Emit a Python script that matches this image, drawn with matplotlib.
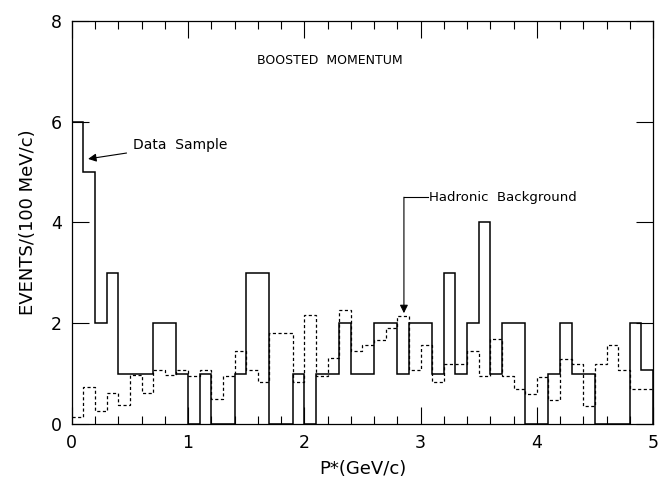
import numpy as np
import matplotlib
matplotlib.use("Agg")
import matplotlib.pyplot as plt
from matplotlib.ticker import MultipleLocator

# bin edges P* (GeV/c), 100 MeV bins
edges = np.round(np.arange(0, 5.01, 0.1), 2)

# data sample (events / 100 MeV/c)
data_sample = [6, 5, 2, 3, 1, 1, 1, 2, 2, 1,
               0, 1, 0, 0, 1, 3, 3, 0, 0, 1,
               0, 1, 1, 2, 1, 1, 2, 2, 1, 2,
               2, 1, 3, 1, 2, 4, 1, 2, 2, 0,
               0, 1, 2, 1, 1, 0, 0, 0, 2, 1.08]

# hadronic background estimate
hadronic_bg = [0.14, 0.73, 0.26, 0.62, 0.37, 0.98, 0.62, 1.08, 0.97, 1.08,
               0.96, 1.08, 0.50, 0.96, 1.44, 1.08, 0.83, 1.81, 1.81, 0.83,
               2.16, 0.96, 1.31, 2.26, 1.44, 1.56, 1.67, 1.91, 2.15, 1.08,
               1.56, 0.83, 1.19, 1.19, 1.44, 0.95, 1.68, 0.95, 0.70, 0.60,
               0.93, 0.47, 1.29, 1.19, 0.35, 1.19, 1.56, 1.07, 0.70, 0.70]

fig = plt.figure(figsize=(6.65, 4.83), dpi=100)
ax = fig.add_axes([0.108, 0.122, 0.874, 0.835])

ax.stairs(data_sample, edges, color="black", linewidth=1.1, baseline=0)
ax.stairs(hadronic_bg, edges, color="black", linewidth=0.9,
          linestyle=(0, (2.5, 2)), baseline=None)

ax.set_xlim(0, 5)
ax.set_ylim(0, 8)
ax.xaxis.set_major_locator(MultipleLocator(1))
ax.xaxis.set_minor_locator(MultipleLocator(0.2))
ax.yaxis.set_major_locator(MultipleLocator(2))
ax.tick_params(which="both", direction="in", top=True, right=True,
               labelsize=12.5, pad=7)
ax.tick_params(which="major", length=12, width=0.8)
ax.tick_params(which="minor", length=6, width=0.8)
for s in ax.spines.values():
    s.set_linewidth(0.9)

ax.set_xlabel("P*(GeV/c)", fontsize=13, labelpad=6)
ax.set_ylabel("EVENTS/(100 MeV/c)", fontsize=13, labelpad=10)

ax.text(2.22, 7.22, "BOOSTED  MOMENTUM", fontsize=9, ha="center", va="center")

ax.annotate("Data  Sample", xy=(0.14, 5.26), xytext=(0.53, 5.54),
            fontsize=10, va="center",
            arrowprops=dict(arrowstyle="-|>", color="black", lw=0.8,
                            shrinkA=3, shrinkB=0, mutation_scale=12))

# hadronic background: bent arrow
ax.plot([2.857, 3.06], [4.5, 4.5], color="black", lw=0.8)
ax.annotate("", xy=(2.857, 2.2), xytext=(2.857, 4.5),
            arrowprops=dict(arrowstyle="-|>", color="black", lw=0.8,
                            shrinkA=0, shrinkB=0, mutation_scale=12))
ax.text(3.07, 4.5, "Hadronic  Background", fontsize=9.5, va="center")

fig.savefig("out.png", dpi=100)
